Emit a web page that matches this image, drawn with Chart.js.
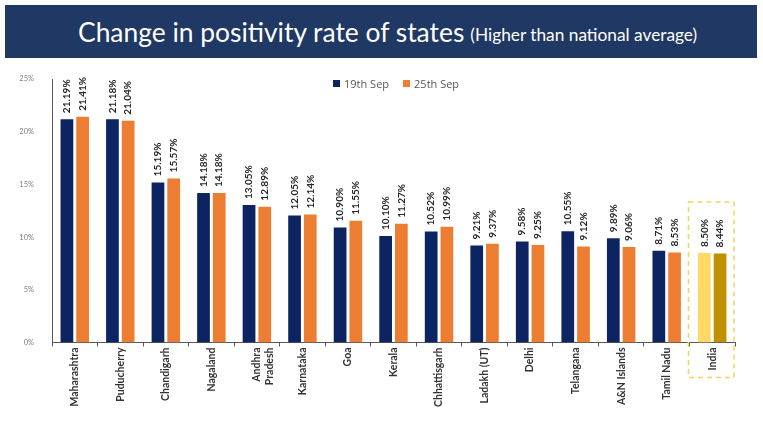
<!DOCTYPE html>
<html>
<head>
<meta charset="utf-8">
<script src="https://cdn.jsdelivr.net/npm/chart.js@4.4.0/dist/chart.umd.min.js"></script>
<style>
  html,body{margin:0;padding:0;background:#fff;}
  #wrap{position:relative;width:763px;height:421px;overflow:hidden;}
  #banner{position:absolute;left:5px;top:5px;width:752px;height:53px;background:#1f3864;box-sizing:border-box;padding-left:73px;
    color:#fff;font-family:Lato,"Open Sans",sans-serif;display:flex;align-items:center;justify-content:flex-start;white-space:nowrap;}
  #banner .main{font-size:26.4px;}
  #banner .sub{font-size:17.3px;margin-left:6px;position:relative;top:3px;}
  #legend{position:absolute;top:76px;left:333px;font-family:"Open Sans",Lato,sans-serif;font-size:11px;color:#595959;display:flex;align-items:center;}
  #legend .sw{display:inline-block;width:7px;height:7px;margin-right:4px;}
  #legend .item{display:flex;align-items:center;margin-right:14px;}
  canvas{position:absolute;left:0;top:0;}
</style>
</head>
<body>
<div id="wrap">
  <canvas id="c" width="763" height="421"></canvas>
  <div id="banner"><span class="main">Change in positivity rate of states</span><span class="sub">(Higher than national average)</span></div>
  <div id="legend"></div>
</div>
<script>
const categories = ['Maharashtra','Puducherry','Chandigarh','Nagaland',['Andhra','Pradesh'],'Karnataka','Goa','Kerala','Chhattisgarh','Ladakh (UT)','Delhi','Telangana','A&N Islands','Tamil Nadu','India'];
const seriesNames = ['19th Sep','25th Sep'];
const sep19 = [21.19,21.18,15.19,14.18,13.05,12.05,10.90,10.10,10.52,9.21,9.58,10.55,9.89,8.71,8.50];
const sep25 = [21.41,21.04,15.57,14.18,12.89,12.14,11.55,11.27,10.99,9.37,9.25,9.12,9.06,8.53,8.44];
const yTicks = [0,5,10,15,20,25];

const NAVY = '#0c2461', ORANGE = '#ed7d31', LIGHTGOLD = '#ffd966', DARKGOLD = '#bf9000';
const highlightIndex = categories.length - 1;
const colors19 = categories.map((c,i)=> i===highlightIndex ? LIGHTGOLD : NAVY);
const colors25 = categories.map((c,i)=> i===highlightIndex ? DARKGOLD : ORANGE);

// HTML legend
const lg = document.getElementById('legend');
[[seriesNames[0],NAVY],[seriesNames[1],ORANGE]].forEach(([n,c])=>{
  const it=document.createElement('span');it.className='item';
  const sw=document.createElement('span');sw.className='sw';sw.style.background=c;
  it.appendChild(sw);it.appendChild(document.createTextNode(n));lg.appendChild(it);
});

const valueLabels = {
  id:'valueLabels',
  afterDatasetsDraw(chart){
    const ctx = chart.ctx;
    ctx.save();
    ctx.font = 'bold 10px Lato, "Open Sans", sans-serif';
    ctx.fillStyle = '#262626';
    ctx.textAlign = 'left';
    ctx.textBaseline = 'middle';
    chart.data.datasets.forEach((ds,di)=>{
      chart.getDatasetMeta(di).data.forEach((bar,i)=>{
        ctx.save();
        ctx.translate(bar.x, bar.y - 6);
        ctx.rotate(-Math.PI/2);
        ctx.fillText(ds.data[i].toFixed(2)+'%',0,0);
        ctx.restore();
      });
    });
    ctx.restore();
  }
};

const highlightBox = {
  id:'highlightBox',
  afterDraw(chart){
    const xs = chart.scales.x, ca = chart.chartArea;
    const step = xs.getPixelForValue(1) - xs.getPixelForValue(0);
    const cx = xs.getPixelForValue(highlightIndex);
    const ctx = chart.ctx;
    ctx.save();
    ctx.strokeStyle = '#f2d45c';
    ctx.lineWidth = 1.5;
    ctx.setLineDash([5,4]);
    ctx.strokeRect(cx - step/2 - 1, ca.top + 123, step, ca.bottom - ca.top - 123 + 35);
    ctx.restore();
  }
};

new Chart(document.getElementById('c'), {
  type:'bar',
  data:{
    labels:categories,
    datasets:[
      {label:seriesNames[0], data:sep19, backgroundColor:colors19, categoryPercentage:0.69, barPercentage:0.81},
      {label:seriesNames[1], data:sep25, backgroundColor:colors25, categoryPercentage:0.69, barPercentage:0.81}
    ]
  },
  options:{
    responsive:false,
    animation:false,
    devicePixelRatio:1,
    layout:{padding:{top:79,left:12,right:28,bottom:0}},
    plugins:{legend:{display:false},tooltip:{enabled:false},title:{display:false}},
    scales:{
      x:{
        grid:{display:true,offset:true,drawOnChartArea:false,drawTicks:true,tickLength:4,color:'#595959'},
        border:{display:true,color:'#595959',width:1},
        ticks:{autoSkip:false,maxRotation:90,minRotation:90,padding:1,color:'#333333',
          font:{family:'Lato, "Open Sans", sans-serif',size:10.5,weight:'bold'}},
        afterFit(s){s.height = 78.5;}
      },
      y:{
        min:0,max:25,
        afterBuildTicks(s){s.ticks = yTicks.map(v=>({value:v}));},
        grid:{display:false},
        border:{display:true,color:'#595959',width:1},
        ticks:{padding:10,color:'#7f7f7f',callback:v=>v+'%',
          font:{family:'Lato, "Open Sans", sans-serif',size:7.5}},
        afterFit(s){s.width = 40;}
      }
    }
  },
  plugins:[valueLabels,highlightBox]
});
</script>
</body>
</html>
